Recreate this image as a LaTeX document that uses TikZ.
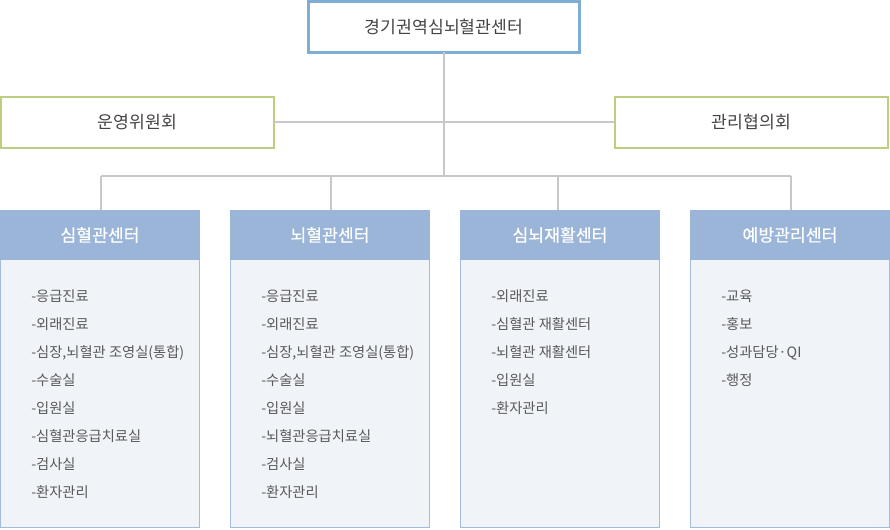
\documentclass[tikz,border=0pt]{standalone}
\usepackage{fontspec}
\setmainfont{Noto Sans CJK KR}
\newfontfamily\hfont[AutoFakeBold=0.5]{Noto Sans CJK KR}
\definecolor{topb}{HTML}{80ADD3}
\definecolor{greenb}{HTML}{BCCF7F}
\definecolor{conn}{HTML}{C8C8C8}
\definecolor{headf}{HTML}{9BB5D9}
\definecolor{bodyb}{HTML}{A3BCDC}
\definecolor{bodyf}{HTML}{F0F4F9}
\definecolor{txt}{HTML}{444444}
\definecolor{itxt}{HTML}{595959}
\begin{document}
\begin{tikzpicture}[x=0.75pt,y=-0.75pt,
  topbox/.style={draw=topb,line width=2.25pt,fill=white,minimum width=271*0.75pt,minimum height=51*0.75pt,inner sep=0pt,outer sep=0pt,text=txt,font=\fontsize{12.9pt}{15pt}\selectfont},
  combox/.style={draw=greenb,line width=1.5pt,fill=white,minimum width=273*0.75pt,minimum height=51*0.75pt,inner sep=0pt,outer sep=0pt,text=txt,font=\fontsize{12.9pt}{15pt}\selectfont},
  headbox/.style={fill=headf,minimum width=200*0.75pt,minimum height=50*0.75pt,inner sep=0pt,outer sep=0pt,text=white,font=\hfont\bfseries\fontsize{12.9pt}{15pt}\selectfont},
  bodybox/.style={draw=bodyb,line width=0.75pt,fill=bodyf,minimum width=199*0.75pt,minimum height=267.5*0.75pt,inner sep=0pt,outer sep=0pt},
  item/.style={anchor=base west,inner sep=0pt,text=itxt,font=\fontsize{10.7pt}{13pt}\selectfont},
  link/.style={draw=conn,line width=1.5pt}]
\useasboundingbox (0,0) rectangle (890,530);
% top
\node[topbox] (top) at (444,27) {경기권역심뇌혈관센터};
\node[combox] (oper) at (137.5,122.5) {운영위원회};
\node[combox] (mgmt) at (751.5,122.5) {관리협의회};
\coordinate (jb) at (444,176);
\coordinate (b1) at (101,176);
\coordinate (b2) at (331,176);
\coordinate (b3) at (558,176);
\coordinate (b4) at (791,176);
% bodies & headers
\node[bodybox] (body1) at (100,393.75) {};
\node[bodybox] (body2) at (330,393.75) {};
\node[bodybox] (body3) at (560,393.75) {};
\node[bodybox] (body4) at (790,393.75) {};
\node[headbox] (h1) at (100,235) {심혈관센터};
\node[headbox] (h2) at (330,235) {뇌혈관센터};
\node[headbox] (h3) at (560,235) {심뇌재활센터};
\node[headbox] (h4) at (790,235) {예방관리센터};
% connectors
\draw[link] (top.south) -- (jb);
\draw[link] (oper.east) -- (mgmt.west);
\draw[link] (b1) -- (b4);
\draw[link] (b1) -- (b1 |- h1.north);
\draw[link] (b2) -- (b2 |- h2.north);
\draw[link] (b3) -- (b3 |- h3.north);
\draw[link] (b4) -- (b4 |- h4.north);
% lists
\foreach [count=\i] \t in {응급진료,외래진료,{심장,뇌혈관 조영실(통합)},수술실,입원실,심혈관응급치료실,검사실,환자관리}
  \node[item] (la\i) at (31,274+28*\i) {-\t};
\foreach [count=\i] \t in {응급진료,외래진료,{심장,뇌혈관 조영실(통합)},수술실,입원실,뇌혈관응급치료실,검사실,환자관리}
  \node[item] (lb\i) at (261,274+28*\i) {-\t};
\foreach [count=\i] \t in {외래진료,심혈관 재활센터,뇌혈관 재활센터,입원실,환자관리}
  \node[item] (lc\i) at (491,274+28*\i) {-\t};
\foreach [count=\i] \t in {교육,홍보,성과담당·QI,행정}
  \node[item] (ld\i) at (721,274+28*\i) {-\t};
\end{tikzpicture}
\end{document}
